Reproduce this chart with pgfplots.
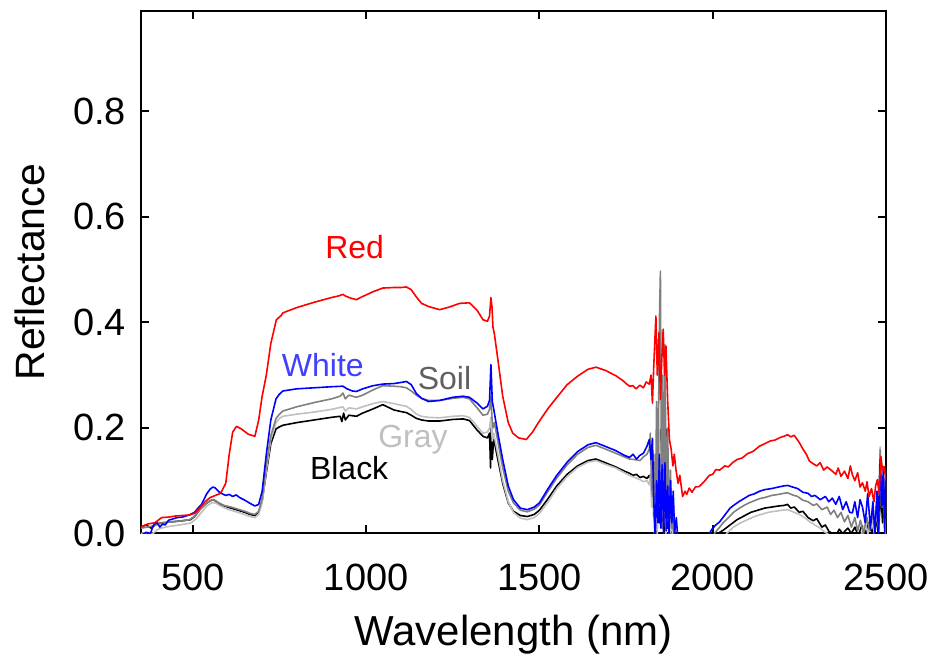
\documentclass[border=0pt]{standalone}
\usepackage{pgfplots}
\pgfplotsset{compat=1.18}
\usepackage{fontspec}
\setmainfont{Liberation Sans}
\definecolor{soilc}{RGB}{128,128,128}
\definecolor{soilt}{RGB}{96,96,96}
\definecolor{grayc}{RGB}{192,192,192}
\definecolor{whitet}{RGB}{64,64,255}
\begin{document}
\begin{tikzpicture}
\useasboundingbox (-70.5pt,-62pt) rectangle (395.5pt,267pt);
\begin{axis}[
  scale only axis, width=373pt, height=261.5pt,
  at={(0,0)}, anchor=south west,
  xmin=350, xmax=2500, ymin=0, ymax=0.99,
  xtick={500,1000,1500,2000,2500},
  xticklabels={500,1000,1500,2000,2500},
  ytick={0,0.2,0.4,0.6,0.8},
  yticklabels={0.0,0.2,0.4,0.6,0.8},
  tick align=inside, major tick length=4pt,
  axis line style={line width=1pt},
  every tick/.style={black, line width=1pt},
  xticklabel style={font=\fontsize{19}{22}\selectfont, anchor=base, yshift=-28.5pt},
  yticklabel style={font=\fontsize{19}{22}\selectfont, anchor=east, xshift=-4pt},
  xlabel={Wavelength (nm)}, ylabel={Reflectance},
  xlabel style={font=\fontsize{21}{24}\selectfont, at={(axis description cs:0.5,-0.2146)}, anchor=base},
  ylabel style={font=\fontsize{20.5}{24}\selectfont, at={(axis description cs:-0.149,0.5)}, anchor=center},
  clip=true,
  every axis plot/.append style={line width=0.8pt, line join=round},
]
% Black
\addplot[black] coordinates {
(350,0.012)(365,0.016)(380,0.010)(395,0.018)(410,0.020)(440,0.022)(470,0.024)(493,0.026)(505,0.032)(520,0.045)(535,0.055)(550,0.062)(560,0.064)(575,0.057)(590,0.052)(610,0.048)(630,0.044)(650,0.040)(665,0.036)(679,0.034)(690,0.040)(700,0.062)(712,0.115)(725,0.170)(740,0.198)(750,0.202)(760,0.205)(800,0.210)(850,0.215)(900,0.220)(925,0.222)(930,0.212)(935,0.228)(940,0.215)(950,0.224)(972,0.222)(990,0.228)(1020,0.236)(1048,0.244)(1080,0.234)(1100,0.231)(1116,0.229)(1130,0.224)(1145,0.218)(1160,0.215)(1180,0.213)(1212,0.213)(1250,0.216)(1280,0.217)(1298,0.214)(1320,0.196)(1337,0.184)(1350,0.181)(1356,0.190)(1359,0.124)(1361,0.210)(1364,0.140)(1368,0.180)(1380,0.140)(1394,0.095)(1410,0.058)(1425,0.042)(1445,0.034)(1465,0.032)(1485,0.036)(1500,0.044)(1525,0.066)(1550,0.090)(1580,0.112)(1610,0.128)(1640,0.138)(1663,0.141)(1690,0.134)(1720,0.126)(1745,0.118)(1760,0.114)(1770,0.110)(1780,0.112)(1790,0.106)(1800,0.108)(1810,0.104)(1817,0.110)(1822,0.090)(1826,0.130)(1830,0.030)(1834,0.100)(1838,-0.01)(1842,0.120)(1846,0.020)(1850,0.197)(1854,0.010)(1858,0.150)(1862,0.000)(1866,0.197)(1870,0.010)(1874,0.100)(1878,-0.01)(1882,0.050)(1886,-0.02)(2010,-0.02)(2015,0.000)(2030,0.006)(2050,0.016)(2070,0.026)(2090,0.033)(2110,0.040)(2130,0.044)(2150,0.048)(2170,0.050)(2190,0.052)(2205,0.053)(2216,0.055)(2225,0.048)(2235,0.050)(2250,0.040)(2260,0.042)(2275,0.030)(2290,0.024)(2300,0.028)(2315,0.012)(2325,0.016)(2335,0.004)(2345,0.000)(2355,-0.005)(2365,0.008)(2375,0.000)(2390,0.010)(2400,0.000)(2410,0.012)(2420,-0.005)(2430,0.015)(2440,0.000)(2450,0.020)(2460,0.000)(2470,0.030)(2478,0.000)(2485,0.080)(2490,0.020)(2495,0.060)(2500,0.000)
};
% Gray
\addplot[grayc] coordinates {
(350,0.000)(370,0.002)(385,0.000)(400,0.008)(420,0.012)(450,0.015)(480,0.018)(495,0.020)(510,0.028)(525,0.040)(540,0.052)(555,0.058)(565,0.058)(580,0.052)(600,0.046)(620,0.042)(640,0.038)(660,0.033)(679,0.030)(690,0.036)(700,0.058)(712,0.120)(725,0.178)(740,0.210)(750,0.218)(760,0.222)(800,0.226)(850,0.230)(900,0.235)(933,0.240)(940,0.232)(950,0.238)(972,0.236)(990,0.240)(1020,0.246)(1048,0.250)(1080,0.246)(1100,0.243)(1116,0.241)(1130,0.235)(1145,0.226)(1160,0.222)(1180,0.220)(1212,0.219)(1250,0.222)(1280,0.223)(1298,0.220)(1320,0.203)(1337,0.190)(1350,0.192)(1356,0.200)(1360,0.220)(1364,0.175)(1368,0.190)(1380,0.150)(1394,0.100)(1410,0.060)(1425,0.040)(1445,0.029)(1465,0.026)(1485,0.030)(1500,0.038)(1525,0.060)(1550,0.085)(1580,0.108)(1610,0.125)(1640,0.135)(1663,0.138)(1690,0.131)(1720,0.124)(1745,0.115)(1760,0.110)(1775,0.106)(1790,0.102)(1800,0.098)(1810,0.100)(1817,0.092)(1820,0.110)(1824,0.050)(1828,0.120)(1832,0.000)(1836,0.080)(1840,-0.01)(1845,0.190)(1849,0.050)(1853,0.250)(1857,0.010)(1861,0.150)(1865,0.000)(1870,0.080)(1875,-0.01)(1880,0.030)(1885,-0.02)(2030,-0.02)(2040,0.000)(2060,0.012)(2080,0.020)(2100,0.026)(2120,0.032)(2140,0.036)(2160,0.040)(2180,0.042)(2200,0.044)(2216,0.045)(2235,0.040)(2250,0.036)(2265,0.030)(2280,0.022)(2295,0.016)(2310,0.010)(2320,0.004)(2330,0.000)(2345,-0.01)(2420,-0.01)(2430,0.000)(2440,0.020)(2448,0.000)(2460,0.030)(2466,0.000)(2472,0.040)(2478,0.010)(2483,0.164)(2487,0.050)(2492,0.090)(2497,0.000)(2500,0.100)
};
% Soil
\addplot[soilc] coordinates {
(350,0.010)(370,0.012)(390,0.015)(410,0.020)(440,0.022)(470,0.024)(490,0.026)(505,0.032)(520,0.045)(535,0.055)(550,0.062)(560,0.064)(575,0.058)(590,0.053)(610,0.050)(630,0.046)(650,0.042)(665,0.038)(679,0.036)(690,0.042)(700,0.065)(712,0.130)(725,0.185)(740,0.218)(750,0.226)(760,0.232)(800,0.240)(850,0.248)(900,0.255)(925,0.260)(933,0.266)(940,0.255)(950,0.262)(972,0.258)(990,0.262)(1020,0.272)(1048,0.280)(1080,0.279)(1100,0.278)(1116,0.276)(1130,0.270)(1145,0.262)(1160,0.256)(1180,0.252)(1212,0.252)(1250,0.256)(1280,0.258)(1298,0.255)(1320,0.238)(1337,0.224)(1350,0.226)(1356,0.235)(1360,0.260)(1363,0.220)(1366,0.200)(1370,0.210)(1380,0.175)(1394,0.125)(1410,0.080)(1425,0.058)(1445,0.044)(1465,0.041)(1485,0.046)(1500,0.054)(1525,0.080)(1550,0.105)(1580,0.130)(1610,0.150)(1640,0.163)(1663,0.167)(1690,0.160)(1720,0.152)(1745,0.145)(1760,0.141)(1775,0.140)(1790,0.138)(1800,0.145)(1810,0.150)(1817,0.160)(1820,0.190)(1823,0.100)(1826,0.070)(1830,0.150)(1834,0.000)(1838,0.250)(1842,0.080)(1846,0.400)(1849,0.497)(1852,0.100)(1855,0.300)(1858,0.020)(1862,0.358)(1866,0.050)(1870,0.200)(1874,0.000)(1878,0.120)(1882,0.010)(1886,0.060)(1890,-0.02)(2000,-0.02)(2005,0.000)(2015,0.008)(2030,0.020)(2045,0.030)(2060,0.040)(2075,0.047)(2090,0.053)(2105,0.058)(2120,0.062)(2135,0.066)(2150,0.068)(2170,0.072)(2190,0.074)(2205,0.076)(2216,0.077)(2230,0.073)(2245,0.070)(2260,0.063)(2275,0.060)(2290,0.053)(2300,0.056)(2315,0.045)(2330,0.050)(2340,0.036)(2350,0.044)(2360,0.030)(2370,0.040)(2380,0.022)(2390,0.034)(2400,0.012)(2410,0.030)(2418,0.005)(2426,0.025)(2435,0.000)(2445,0.030)(2452,0.005)(2460,0.040)(2467,0.010)(2473,0.060)(2478,0.020)(2483,0.159)(2488,0.060)(2492,0.110)(2497,0.020)(2500,0.120)
};
% White
\addplot[blue] coordinates {
(350,-0.004)(365,0.002)(378,0.000)(385,0.014)(395,0.022)(405,0.012)(413,0.018)(420,0.016)(430,0.025)(440,0.027)(455,0.030)(470,0.031)(490,0.035)(505,0.040)(515,0.048)(525,0.055)(540,0.075)(550,0.084)(558,0.088)(565,0.086)(575,0.079)(585,0.075)(595,0.072)(605,0.074)(615,0.070)(625,0.073)(635,0.068)(650,0.063)(665,0.057)(679,0.052)(690,0.055)(700,0.080)(712,0.150)(725,0.215)(740,0.255)(750,0.264)(760,0.270)(780,0.272)(800,0.274)(850,0.276)(900,0.278)(933,0.279)(945,0.274)(960,0.270)(972,0.269)(990,0.274)(1020,0.280)(1048,0.283)(1080,0.284)(1100,0.286)(1116,0.288)(1130,0.282)(1145,0.265)(1160,0.256)(1180,0.250)(1212,0.252)(1250,0.258)(1280,0.260)(1298,0.258)(1320,0.247)(1337,0.236)(1350,0.241)(1356,0.252)(1360,0.320)(1364,0.250)(1368,0.236)(1380,0.190)(1394,0.140)(1410,0.090)(1425,0.064)(1445,0.048)(1465,0.045)(1485,0.050)(1500,0.058)(1525,0.085)(1550,0.110)(1580,0.135)(1610,0.155)(1640,0.168)(1663,0.172)(1690,0.165)(1720,0.157)(1745,0.148)(1760,0.144)(1770,0.150)(1780,0.141)(1790,0.148)(1800,0.152)(1810,0.165)(1817,0.178)(1822,0.140)(1826,0.180)(1830,0.060)(1834,-0.01)(1838,0.100)(1842,0.020)(1846,0.150)(1850,0.010)(1854,0.130)(1858,0.000)(1862,0.134)(1866,0.005)(1870,0.090)(1874,0.000)(1878,0.100)(1882,0.020)(1886,0.080)(1890,0.000)(1895,0.030)(1900,-0.020)(1985,-0.020)(1990,0.000)(2000,0.010)(2009,0.016)(2020,0.022)(2035,0.035)(2050,0.048)(2060,0.053)(2075,0.060)(2090,0.066)(2105,0.072)(2120,0.075)(2135,0.080)(2150,0.083)(2170,0.085)(2190,0.088)(2205,0.090)(2216,0.091)(2230,0.088)(2245,0.085)(2260,0.078)(2275,0.076)(2285,0.070)(2295,0.072)(2310,0.064)(2325,0.070)(2335,0.060)(2345,0.067)(2355,0.055)(2365,0.070)(2375,0.045)(2385,0.060)(2395,0.040)(2403,0.039)(2410,0.060)(2418,0.030)(2425,0.064)(2432,0.050)(2440,0.020)(2447,0.075)(2455,0.010)(2462,0.060)(2468,0.000)(2474,0.080)(2478,0.000)(2483,0.140)(2488,0.050)(2492,0.120)(2496,0.000)(2500,0.130)
};
% Red
\addplot[red] coordinates {
(350,0.012)(370,0.018)(390,0.020)(410,0.030)(430,0.031)(450,0.033)(470,0.034)(490,0.035)(505,0.038)(520,0.048)(535,0.060)(550,0.068)(565,0.072)(580,0.076)(595,0.095)(605,0.150)(615,0.192)(626,0.203)(640,0.198)(660,0.188)(679,0.184)(690,0.215)(700,0.260)(712,0.300)(725,0.360)(741,0.405)(755,0.413)(760,0.418)(800,0.428)(850,0.438)(900,0.447)(920,0.450)(933,0.453)(940,0.450)(955,0.446)(972,0.443)(990,0.449)(1020,0.458)(1048,0.465)(1080,0.466)(1100,0.466)(1116,0.467)(1130,0.462)(1145,0.448)(1160,0.436)(1180,0.430)(1212,0.424)(1240,0.429)(1270,0.436)(1298,0.437)(1320,0.423)(1337,0.405)(1350,0.402)(1356,0.412)(1360,0.447)(1363,0.430)(1366,0.390)(1370,0.378)(1380,0.330)(1394,0.260)(1410,0.210)(1423,0.190)(1440,0.181)(1462,0.178)(1480,0.192)(1500,0.213)(1525,0.237)(1548,0.256)(1580,0.282)(1610,0.298)(1640,0.311)(1663,0.315)(1690,0.309)(1720,0.299)(1740,0.290)(1750,0.284)(1760,0.279)(1770,0.280)(1779,0.274)(1790,0.281)(1800,0.276)(1808,0.287)(1817,0.283)(1822,0.300)(1826,0.247)(1830,0.320)(1836,0.412)(1840,0.300)(1845,0.380)(1849,0.254)(1853,0.330)(1857,0.387)(1861,0.300)(1865,0.355)(1870,0.250)(1875,0.178)(1880,0.160)(1885,0.128)(1889,0.150)(1894,0.120)(1900,0.095)(1905,0.110)(1913,0.070)(1920,0.080)(1925,0.074)(1932,0.086)(1940,0.078)(1950,0.088)(1961,0.089)(1975,0.098)(1990,0.110)(2000,0.112)(2009,0.121)(2020,0.120)(2035,0.128)(2045,0.126)(2057,0.134)(2070,0.140)(2085,0.143)(2100,0.151)(2115,0.155)(2125,0.160)(2134,0.165)(2150,0.170)(2165,0.175)(2180,0.177)(2195,0.182)(2205,0.184)(2216,0.187)(2225,0.183)(2235,0.186)(2250,0.172)(2260,0.160)(2270,0.150)(2279,0.137)(2290,0.132)(2300,0.128)(2310,0.134)(2320,0.120)(2330,0.126)(2345,0.118)(2355,0.112)(2362,0.124)(2370,0.108)(2380,0.118)(2390,0.104)(2397,0.128)(2403,0.111)(2410,0.100)(2418,0.115)(2425,0.088)(2432,0.096)(2440,0.080)(2445,0.098)(2451,0.070)(2458,0.085)(2465,0.060)(2470,0.090)(2475,0.102)(2480,0.075)(2485,0.146)(2490,0.120)(2494,0.127)(2500,0.100)
};
\node[red, anchor=base, font=\fontsize{16}{18}\selectfont] at (axis cs:967,0.521) {Red};
\node[whitet, anchor=base, font=\fontsize{16}{18}\selectfont] at (axis cs:875,0.298) {White};
\node[soilt, anchor=base, font=\fontsize{16}{18}\selectfont] at (axis cs:1226,0.273) {Soil};
\node[grayc, anchor=base, font=\fontsize{16}{18}\selectfont] at (axis cs:1135,0.163) {Gray};
\node[black, anchor=base, font=\fontsize{16}{18}\selectfont] at (axis cs:951,0.102) {Black};
\end{axis}
\end{tikzpicture}
\end{document}
